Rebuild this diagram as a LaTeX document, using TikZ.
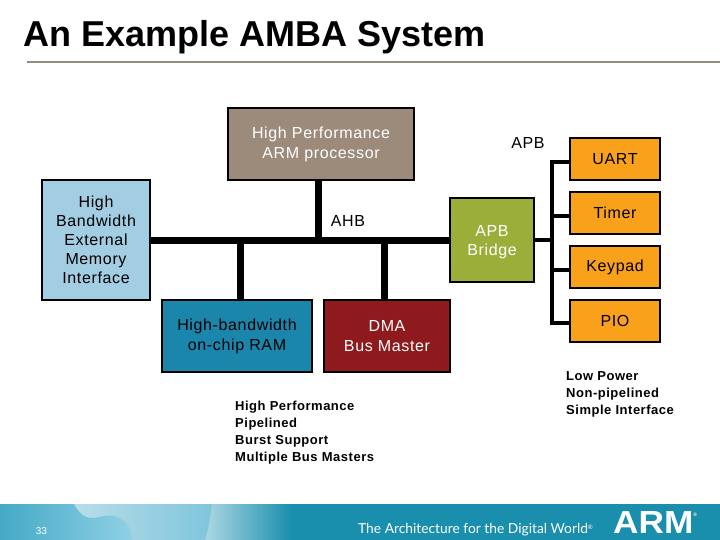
\documentclass[tikz,border=0pt]{standalone}
\usepackage{fontspec}
\setmainfont{Liberation Sans}
\newfontfamily\spacedfont[LetterSpace=4]{Liberation Sans}
\newfontfamily\tagfont{Lato}
\usetikzlibrary{shadings}

\definecolor{ruleclr}{HTML}{948E80}
\definecolor{cpuclr}{HTML}{9C8B7B}
\definecolor{memclr}{HTML}{A3CDE3}
\definecolor{ramclr}{HTML}{1A86AB}
\definecolor{dmaclr}{HTML}{8E1A1D}
\definecolor{brgclr}{HTML}{9BAE3A}
\definecolor{perclr}{HTML}{F9A11B}
\definecolor{bandclr}{HTML}{198EAD}
\definecolor{landl}{HTML}{45A9C7}
\definecolor{landr}{HTML}{8FD0E4}
\definecolor{seal}{HTML}{BEE0EA}
\definecolor{sear}{HTML}{7FC5DB}
\definecolor{edgel}{HTML}{B4DBE6}

\tikzset{
  block/.style={draw=black,line width=2pt,inner sep=0pt,align=center,
    font=\spacedfont\fontsize{16}{19}\selectfont},
  wideblock/.style={block,font=\spacedfont\fontsize{16}{20}\selectfont},
  periph/.style={block,fill=perclr,minimum width=90pt,minimum height=42pt},
  note/.style={inner sep=0pt,anchor=north west,align=left,
    font=\spacedfont\bfseries\fontsize{13}{17}\selectfont},
  ahb/.style={line width=7pt},
  apb/.style={line width=4pt,line cap=rect},
}

\begin{document}
\begin{tikzpicture}[x=1pt,y=-1pt]
\useasboundingbox (0,0) rectangle (720,540);

% Footer band and globe
\fill[bandclr] (0,504) rectangle (720,540);
\shade[left color=edgel,right color=bandclr] (200,504) rectangle (292,540);
\shade[left color=seal,right color=sear] (60,504)
  -- (212,504) .. controls (210,516) and (209,528) .. (205,540) -- (60,540) -- cycle;
\shade[left color=landl,right color=landr] (0,504) -- (74,504)
  .. controls (78,512) and (84,518) .. (92,518)
  .. controls (100,518) and (106,514) .. (114,516)
  .. controls (124,519) and (132,526) .. (132,540) -- (0,540) -- cycle;

% Title and rule
\node[inner sep=0pt,anchor=base west,font=\bfseries\fontsize{36}{36}\selectfont] (title) at (23,47) {An Example AMBA System};
\coordinate (rulel) at (27,62);
\coordinate (ruler) at (720,62);
\draw[ruleclr,line width=2pt] (rulel) -- (ruler);

% Blocks on the AHB
\node[wideblock,fill=cpuclr,text=white,minimum width=186pt,minimum height=72pt] (cpu) at (321,144) {High Performance\\ARM processor};
\node[block,fill=memclr,minimum width=108pt,minimum height=120pt] (mem) at (96,240) {High\\Bandwidth\\External\\Memory\\Interface};
\node[wideblock,fill=ramclr,minimum width=150pt,minimum height=72pt] (ram) at (237,336) {High-bandwidth\\on-chip RAM};
\node[wideblock,fill=dmaclr,text=white,minimum width=126pt,minimum height=72pt] (dma) at (387,336) {DMA\\Bus Master};
\node[block,fill=brgclr,text=white,minimum width=84pt,minimum height=84pt] (bridge) at (492,240) {\rule{0pt}{15.5pt}APB\\Bridge};

% Blocks on the APB
\node[periph] (uart) at (615,159) {UART};
\node[periph] (timer) at (615,213) {Timer};
\node[periph] (keypad) at (615,267) {Keypad};
\node[periph] (pio) at (615,321) {PIO};

% Tap points
\coordinate (ahbcpu) at (318,240);
\coordinate (ahbram) at (240,240);
\coordinate (ahbdma) at (384,240);
\coordinate (apbuart) at (552,162);
\coordinate (apbtimer) at (552,216);
\coordinate (apbbrg) at (552,240);
\coordinate (apbkey) at (552,270);
\coordinate (apbpio) at (552,323);

% AHB
\draw[ahb] (mem) -- (bridge);
\draw[ahb] (cpu.south -| ahbcpu) -- (ahbcpu);
\draw[ahb] (ahbram) -- (ram.north -| ahbram);
\draw[ahb] (ahbdma) -- (dma.north -| ahbdma);

% APB
\draw[apb] (apbuart) -- (apbpio);
\draw[apb] (bridge) -- (apbbrg);
\draw[apb] (apbuart) -- (uart.west |- apbuart);
\draw[apb] (apbtimer) -- (timer.west |- apbtimer);
\draw[apb] (apbkey) -- (keypad.west |- apbkey);
\draw[apb] (apbpio) -- (pio.west |- apbpio);

% Labels
\node[inner sep=0pt,font=\spacedfont\fontsize{16}{19}\selectfont] (ahblbl) at (348,221) {AHB};
\node[inner sep=0pt,font=\spacedfont\fontsize{16}{19}\selectfont] (apblbl) at (528,143) {APB};
\node[note] (ahbnote) at (235,401) {High Performance\\Pipelined\\Burst Support\\Multiple Bus Masters};
\node[note] (apbnote) at (566,371) {Low Power\\Non-pipelined\\Simple Interface};

% Footer text
\node[inner sep=0pt,text=white,font=\fontsize{10}{10}\selectfont] (pagenum) at (41.5,531.5) {33};
\node[inner sep=0pt,anchor=base west,text=white,font=\tagfont\fontsize{13.8}{14}\selectfont] (tagline) at (358,533) {The Architecture for the Digital World\raisebox{4pt}{\fontsize{6}{6}\selectfont\textregistered}};
\node[inner sep=0pt,anchor=base west,text=white,font=\bfseries\fontsize{32}{32}\selectfont] (logo) at (613,533) {\scalebox{1.1}[1]{ARM}\raisebox{17pt}{\fontsize{5}{5}\selectfont\textregistered}};
\end{tikzpicture}
\end{document}
